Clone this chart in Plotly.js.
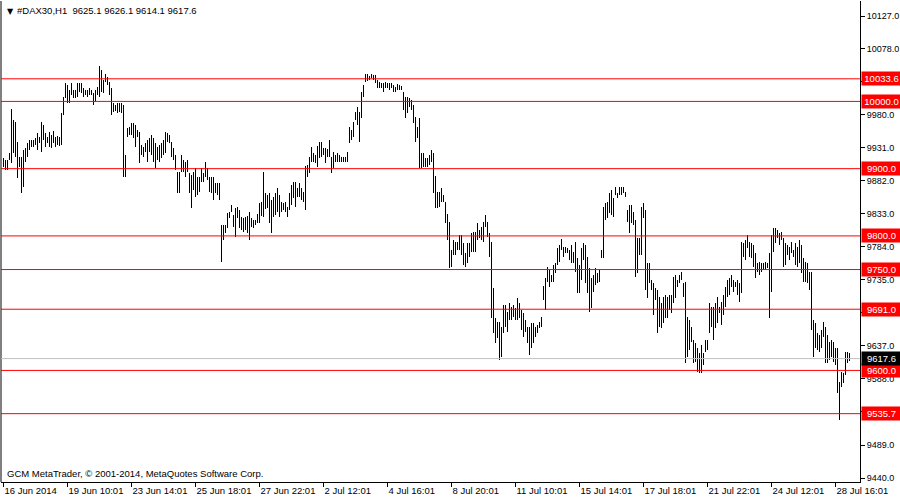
<!DOCTYPE html>
<html>
<head>
<meta charset="utf-8">
<script src="https://cdn.plot.ly/plotly-3.0.1.min.js"></script>
<style>html,body{margin:0;padding:0;background:#fff;}#chart{width:900px;height:500px;}</style>
</head>
<body>
<div id="chart"></div>
<script>
// ---- data (DAX30, H1) ----
const symbolTitle = "#DAX30,H1";
const lastOHLC = [9625.1, 9626.1, 9614.1, 9617.6];
const highs = [
9915.9,9912.9,9912.9,9923.3,9988.7,9972.4,9969.4,9939.6,9917.4,9917.4,
9927.8,9930.8,9938.1,9942.6,9942.6,9942.6,9945.6,9953.0,9947.1,9969.4,
9965.0,9953.0,9947.1,9954.5,9950.1,9956.0,9947.1,9948.6,9947.1,9982.7,
10006.5,10027.4,10024.4,10016.9,10027.4,10016.9,10016.9,10027.4,10027.4,10027.4,
10019.9,10016.9,10016.9,10019.9,10016.9,10012.4,10016.9,10021.4,10052.7,10046.7,
10031.8,10040.8,10036.3,10028.9,10019.9,9997.6,9994.7,9997.6,9997.6,9997.6,
9994.7,9920.4,9960.5,9962.0,9967.9,9967.9,9965.0,9957.5,9954.5,9935.2,
9932.2,9938.1,9942.6,9945.6,9950.1,9945.6,9938.1,9932.2,9935.2,9938.1,
9942.6,9954.5,9953.0,9950.1,9939.6,9930.8,9920.4,9895.0,9895.0,9920.4,
9912.9,9909.9,9912.9,9893.6,9890.6,9895.0,9901.0,9887.6,9887.6,9901.0,
9893.6,9909.9,9901.0,9887.6,9887.6,9887.6,9878.6,9878.6,9878.6,9816.2,
9816.2,9816.2,9834.0,9835.5,9846.0,9831.1,9841.5,9843.0,9838.5,9828.1,
9826.6,9828.1,9829.6,9835.5,9826.6,9823.7,9823.7,9832.6,9848.9,9850.4,
9895.0,9863.8,9860.9,9863.8,9853.4,9857.9,9863.8,9871.2,9860.9,9850.4,
9848.9,9850.4,9843.0,9863.8,9875.7,9880.1,9880.1,9871.2,9878.6,9871.2,
9865.3,9903.9,9905.5,9917.4,9932.2,9923.3,9920.4,9933.7,9939.6,9939.6,
9930.8,9930.8,9929.3,9942.6,9917.4,9924.8,9920.4,9923.3,9920.4,9917.4,
9917.4,9917.4,9924.8,9962.0,9957.5,9969.4,9984.2,9991.7,9984.2,10013.9,
10024.4,10040.8,10040.8,10037.8,10040.8,10039.3,10039.3,10031.8,10028.9,10027.4,
10027.4,10028.9,10027.4,10027.4,10027.4,10024.4,10021.4,10025.9,10024.4,10022.9,
10013.9,10006.5,10006.5,10005.0,10002.1,9994.7,9976.8,9962.0,9975.3,9923.3,
9923.3,9915.9,9915.9,9920.4,9927.8,9923.3,9889.1,9865.3,9865.3,9871.2,
9860.9,9850.4,9832.6,9820.7,9779.0,9793.9,9790.9,9790.9,9801.3,9801.3,
9789.4,9774.5,9789.4,9789.4,9804.3,9805.8,9805.8,9819.2,9808.8,9813.2,
9820.7,9831.1,9820.7,9804.3,9790.9,9722.5,9677.9,9672.0,9672.0,9664.6,
9697.3,9697.3,9686.9,9700.2,9694.3,9697.3,9692.8,9707.7,9700.2,9689.8,
9685.4,9675.0,9664.6,9664.6,9670.5,9670.5,9664.6,9667.5,9672.0,9679.4,
9725.5,9737.4,9753.8,9749.3,9741.9,9756.8,9759.7,9782.0,9786.5,9795.4,
9783.5,9783.5,9782.0,9779.0,9786.5,9776.0,9790.9,9767.2,9756.8,9782.0,
9789.4,9786.5,9768.6,9752.3,9737.4,9741.9,9752.3,9744.8,9749.3,9779.0,
9843.0,9848.9,9850.4,9863.8,9868.3,9856.4,9872.7,9863.8,9872.7,9872.7,
9872.7,9865.3,9838.5,9846.0,9846.0,9835.5,9823.7,9796.9,9796.9,9843.0,
9848.9,9838.5,9759.7,9759.7,9734.4,9730.0,9722.5,9719.6,9709.2,9700.2,
9709.2,9712.1,9709.2,9712.1,9712.1,9738.9,9741.9,9734.4,9741.9,9746.3,
9730.0,9731.5,9679.4,9675.0,9664.6,9645.2,9640.7,9633.3,9625.8,9637.8,
9625.8,9645.2,9645.2,9700.2,9694.3,9694.3,9700.2,9709.2,9694.3,9701.7,
9712.1,9724.0,9734.4,9737.4,9741.9,9734.4,9731.5,9734.4,9730.0,9790.9,
9789.4,9793.9,9801.3,9790.9,9789.4,9786.5,9774.5,9759.7,9761.2,9759.7,
9759.7,9761.2,9759.7,9774.5,9801.3,9811.8,9811.8,9808.8,9804.3,9805.8,
9796.9,9789.4,9786.5,9783.5,9790.9,9779.0,9789.4,9783.5,9793.9,9786.5,
9767.2,9761.2,9759.7,9746.3,9746.3,9675.0,9670.5,9655.6,9652.7,9660.1,
9672.0,9664.6,9652.7,9642.2,9645.2,9642.2,9633.3,9633.3,9582.7,9597.6,
9596.1,9627.3,9627.3,9626.1
];
const lows = [
9902.5,9898.0,9898.0,9912.9,9908.4,9923.3,9917.4,9886.1,9902.5,9863.8,
9872.7,9909.9,9917.4,9927.8,9932.2,9932.2,9935.2,9927.8,9938.1,9924.8,
9942.6,9932.2,9938.1,9932.2,9930.8,9938.1,9932.2,9935.2,9933.7,9935.2,
9979.8,10005.0,9997.6,9997.6,10009.5,10005.0,10005.0,10006.5,10013.9,10012.4,
10006.5,10009.5,10006.5,10009.5,10009.5,9994.7,9999.1,10009.5,10006.5,10013.9,
10012.4,10028.9,10024.4,10009.5,9979.8,9984.2,9985.7,9982.7,9984.2,9982.7,
9887.6,9887.6,9947.1,9950.1,9950.1,9945.6,9932.2,9947.1,9908.4,9920.4,
9917.4,9924.8,9909.9,9924.8,9920.4,9909.9,9901.0,9912.9,9909.9,9915.9,
9920.4,9923.3,9939.6,9938.1,9917.4,9912.9,9898.0,9863.8,9863.8,9895.0,
9895.0,9887.6,9895.0,9863.8,9841.5,9868.3,9857.9,9860.9,9865.3,9880.1,
9880.1,9887.6,9883.1,9865.3,9863.8,9853.4,9863.8,9860.9,9853.4,9761.2,
9793.9,9804.3,9811.8,9826.6,9835.5,9813.2,9798.4,9826.6,9811.8,9808.8,
9805.8,9808.8,9804.3,9793.9,9813.2,9811.8,9816.2,9819.2,9819.2,9829.6,
9828.1,9840.0,9841.5,9819.2,9804.3,9828.1,9831.1,9835.5,9828.1,9835.5,
9838.5,9835.5,9828.1,9838.5,9846.0,9856.4,9843.0,9857.9,9857.9,9853.4,
9850.4,9838.5,9887.6,9893.6,9909.9,9909.9,9908.4,9902.5,9915.9,9917.4,
9920.4,9908.4,9917.4,9917.4,9893.6,9901.0,9909.9,9909.9,9909.9,9909.9,
9909.9,9909.9,9909.9,9938.1,9942.6,9947.1,9972.4,9965.0,9939.6,9975.3,
10006.5,10028.9,10030.3,10031.8,10034.8,10031.8,10027.4,10019.9,10019.9,10019.9,
10013.9,10019.9,10019.9,10016.9,10019.9,10013.9,10013.9,10016.9,10016.9,10016.9,
9987.2,9975.3,9982.7,9991.7,9987.2,9967.9,9939.6,9945.6,9901.0,9901.0,
9902.5,9902.5,9902.5,9905.5,9909.9,9863.8,9841.5,9841.5,9843.0,9850.4,
9850.4,9819.2,9793.9,9752.3,9753.8,9771.6,9771.6,9779.0,9779.0,9771.6,
9756.8,9753.8,9759.7,9768.6,9776.0,9776.0,9776.0,9793.9,9796.9,9793.9,
9790.9,9813.2,9798.4,9768.6,9677.9,9655.6,9640.7,9648.2,9615.5,9620.0,
9655.6,9664.6,9657.1,9675.0,9675.0,9679.4,9675.0,9675.0,9677.9,9660.1,
9649.7,9657.1,9640.7,9622.9,9633.3,9640.7,9649.7,9655.6,9663.1,9664.6,
9704.7,9689.8,9731.5,9724.0,9731.5,9731.5,9744.8,9756.8,9761.2,9779.0,
9768.6,9774.5,9774.5,9764.2,9759.7,9759.7,9746.3,9715.1,9715.1,9734.4,
9764.2,9730.0,9715.1,9686.9,9692.8,9716.6,9727.0,9730.0,9731.5,9767.2,
9767.2,9823.7,9826.6,9834.0,9831.1,9828.1,9860.9,9856.4,9860.9,9860.9,
9863.8,9857.9,9820.7,9804.3,9819.2,9816.2,9738.9,9744.8,9771.6,9771.6,
9826.6,9719.6,9707.7,9730.0,9719.6,9682.4,9704.7,9655.6,9664.6,9663.1,
9670.5,9677.9,9677.9,9689.8,9685.4,9700.2,9707.7,9724.0,9730.0,9734.4,
9709.2,9611.0,9620.0,9630.3,9642.2,9611.0,9612.5,9597.6,9596.1,9596.1,
9608.0,9627.3,9630.3,9655.6,9664.6,9645.2,9663.1,9670.5,9685.4,9667.5,
9682.4,9694.3,9709.2,9712.1,9724.0,9716.6,9724.0,9712.1,9701.7,9715.1,
9768.6,9764.2,9782.0,9768.6,9767.2,9753.8,9737.4,9746.3,9741.9,9746.3,
9749.3,9749.3,9752.3,9677.9,9716.6,9776.0,9789.4,9796.9,9786.5,9793.9,
9753.8,9756.8,9771.6,9764.2,9774.5,9768.6,9756.8,9753.8,9759.7,9744.8,
9731.5,9731.5,9730.0,9719.6,9660.1,9620.0,9633.3,9630.3,9627.3,9633.3,
9649.7,9611.0,9611.0,9615.5,9620.0,9612.5,9608.0,9566.4,9526.3,9575.3,
9581.2,9593.1,9611.0,9614.1
];
const dateTickIdx = [0,32,64,96,128,160,192,224,256,288,320,352,384,416];
const dateLabels = ["16 Jun 2014","19 Jun 10:01","23 Jun 14:01","25 Jun 18:01","27 Jun 22:01",
  "2 Jul 12:01","4 Jul 16:01","8 Jul 20:01","11 Jul 10:01","15 Jul 14:01","17 Jul 18:01",
  "21 Jul 22:01","24 Jul 12:01","28 Jul 16:01"];
const priceTicks = [10127.0,10078.0,10029.0,9980.0,9931.0,9882.0,9833.0,9784.0,9735.0,9686.0,9637.0,9588.0,9539.0,9489.0,9440.0];
const levelLines = [10033.6,10000.0,9900.0,9800.0,9750.0,9691.0,9600.0,9535.7];
const lastPrice = 9617.6;
const watermark = "GCM MetaTrader, \u00A9 2001-2014, MetaQuotes Software Corp.";

// ---- build chart ----
const FONT = "Liberation Sans, Arial, sans-serif";
const idx = highs.map((_, i) => i);
const barTrace = {
  type: "bar",
  x: idx,
  y: highs.map((h, i) => h - lows[i]),
  base: lows,
  width: 0.4,
  marker: {color: "#000000", line: {width: 0}},
  hoverinfo: "skip",
  showlegend: false
};

const shapes = [
  {type: "line", xref: "paper", yref: "paper", x0: 0, x1: 0, y0: 0, y1: 1, line: {color: "#000", width: 1}}
];
shapes.push({type: "line", xref: "paper", yref: "y", x0: 0, x1: 1, y0: lastPrice, y1: lastPrice, line: {color: "#c0c0c0", width: 1}});
levelLines.forEach(v => shapes.push({type: "line", xref: "paper", yref: "y", x0: 0, x1: 1, y0: v, y1: v, line: {color: "#ff0000", width: 1}}));

const annotations = [];
levelLines.forEach(v => annotations.push({
  xref: "paper", yref: "y", x: 1, y: v, xanchor: "left", yanchor: "middle", xshift: 1,
  text: v.toFixed(1), showarrow: false, bgcolor: "#ff0000", borderpad: 1, width: 37, height: 11, align: "center",
  font: {family: FONT, size: 9.5, color: "#ffffff"}
}));
annotations.push({
  xref: "paper", yref: "y", x: 1, y: lastPrice, xanchor: "left", yanchor: "middle", xshift: 1,
  text: lastPrice.toFixed(1), showarrow: false, bgcolor: "#000000", borderpad: 1, width: 37, height: 11, align: "center",
  font: {family: FONT, size: 9.5, color: "#ffffff"}
});
annotations.push({
  xref: "paper", yref: "paper", x: 0, y: 1, xanchor: "left", yanchor: "top", xshift: 4, yshift: -4,
  text: "\u25BC", showarrow: false, font: {family: "DejaVu Sans", size: 8, color: "#000"}
});
annotations.push({
  xref: "paper", yref: "paper", x: 0, y: 1, xanchor: "left", yanchor: "top", xshift: 14, yshift: -2,
  text: symbolTitle + "\u00A0\u00A0" + lastOHLC.map(v => v.toFixed(1)).join(" "),
  showarrow: false, font: {family: FONT, size: 9.5, color: "#000"}
});
annotations.push({
  xref: "paper", yref: "paper", x: 0, y: 0, xanchor: "left", yanchor: "bottom", xshift: 4, yshift: 1,
  text: watermark, showarrow: false, font: {family: FONT, size: 9.5, color: "#000"}
});

const layout = {
  width: 900, height: 500,
  margin: {l: 1, r: 40, t: 1, b: 18, pad: 0},
  paper_bgcolor: "#ffffff", plot_bgcolor: "#ffffff",
  showlegend: false,
  bargap: 0,
  xaxis: {
    range: [-1.25, 428.25], showgrid: false, zeroline: false, fixedrange: true,
    showline: true, linecolor: "#000", linewidth: 1,
    ticks: "outside", ticklen: 4, tickcolor: "#000", tickwidth: 1,
    tickmode: "array", tickvals: dateTickIdx, ticktext: dateLabels,
    tickangle: 0, automargin: false,
    ticklabelposition: "outside right",
    tickfont: {family: FONT, size: 9.5, color: "#000"}
  },
  yaxis: {
    side: "right", range: [9434.1, 10149.3], showgrid: false, zeroline: false, fixedrange: true,
    showline: true, linecolor: "#000", linewidth: 1, automargin: false,
    ticks: "outside", ticklen: 4, tickcolor: "#000", tickwidth: 1,
    tickmode: "array", tickvals: priceTicks, ticktext: priceTicks.map(v => v.toFixed(1)),
    tickfont: {family: FONT, size: 9, color: "#000"}
  },
  shapes: shapes,
  annotations: annotations
};

Plotly.newPlot("chart", [barTrace], layout, {displayModeBar: false, responsive: false});
</script>
</body>
</html>
